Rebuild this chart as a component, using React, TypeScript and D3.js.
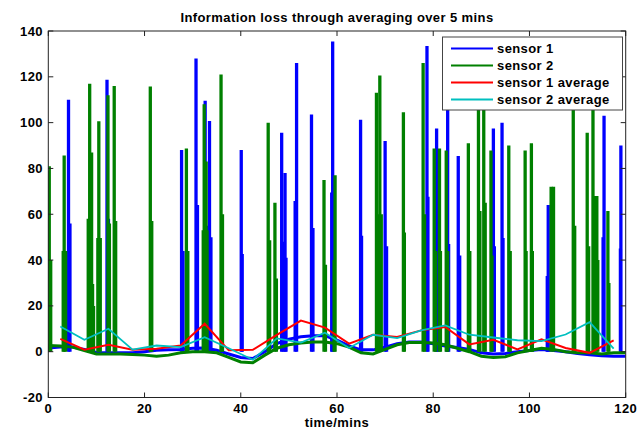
import React from "react";
import * as d3 from "d3";

const W = 639;
const H = 432;

// Baseline samples every 2.5 minutes (t = 0 .. 120)
const baseTimes: number[] = [
  0, 2.5, 5, 7.5, 10, 12.5, 15, 17.5, 20, 22.5, 25, 27.5, 30, 32.5, 35, 37.5, 40, 42.5, 45, 47.5,
  50, 52.5, 55, 57.5, 60, 62.5, 65, 67.5, 70, 72.5, 75, 77.5, 80, 82.5, 85, 87.5, 90, 92.5, 95, 97.5,
  100, 102.5, 105, 107.5, 110, 112.5, 115, 117.5, 120,
];
const sensor1Base: number[] = [
  1.6, 2, 2, 1, -0.3, -0.5, -0.5, -0.5, 0, 0.6, 0.8, 1, 1.5, 1.6, 0.6, -1, -2.5, -3, 0, 3.5,
  5.5, 6.5, 7, 7, 5, 2.5, 0.8, 0.8, 2, 3.5, 4.2, 4.2, 3.5, 2.5, 1.8, 1, -0.5, -1, -0.8, 0,
  0.5, 1, 0.5, 0, -0.8, -1.3, -1.8, -2, -2,
];
const sensor2Base: number[] = [
  2.7, 2.5, 2, 0.5, -1, -1, -1, -1.2, -1.5, -2, -1.5, -0.5, 0, 0, -0.5, -2.5, -4.5, -4.8, -1.5, 1.5,
  3, 3.8, 4.2, 4.2, 3.5, 2, -0.5, -1, 1, 3, 4, 4, 3.8, 3, 1.5, 0, -2, -2.5, -2.2, -0.5,
  0.5, 1.5, 1, 0, -0.5, -0.5, -1, -0.5, -0.5,
];

// Spikes: [time in minutes, value]
const sensor1Spikes: [number, number][] = [
  [4.2, 110], [4.5, 56],
  [12.2, 118.7], [12.5, 58],
  [27.7, 88], [28.0, 44],
  [30.7, 128], [31.0, 64],
  [32.6, 109.6], [33.0, 55],
  [33.5, 100.7], [33.8, 50],
  [40.1, 88], [40.3, 42.6],
  [48.5, 95.6], [48.8, 48],
  [49.2, 78], [49.4, 41],
  [51.6, 126], [51.3, 65.8],
  [54.7, 103.5], [55.0, 54],
  [59.1, 135.4], [58.9, 69.5],
  [64.9, 101.3], [65.1, 50.6],
  [70.0, 92], [70.3, 46],
  [78.7, 133.5], [78.9, 67.6],
  [80.7, 97.4], [80.9, 45],
  [83.0, 108], [82.8, 59], [83.2, 47],
  [85.2, 85.4], [85.5, 42],
  [92.5, 97.4], [92.7, 46],
  [94.3, 100], [94.5, 49.6],
  [103.9, 64], [103.7, 33],
  [115.5, 103], [115.3, 50],
  [119.0, 90], [118.9, 45],
];
const sensor2Spikes: [number, number][] = [
  [0.0, 79], [0.2, 81], [0.5, 40],
  [3.1, 44], [3.3, 85.6], [3.6, 44],
  [8.3, 58], [8.6, 117], [9.0, 87], [9.2, 29.6], [9.4, 20],
  [10.3, 49.6], [10.5, 100.6], [10.8, 49.6],
  [12.4, 112], [12.7, 56],
  [13.7, 116], [14.0, 57],
  [21.2, 115.8], [21.5, 57],
  [28.7, 88.7], [29.0, 44],
  [32.2, 53], [32.4, 108], [32.8, 83], [33.0, 53],
  [35.9, 121], [36.2, 60],
  [45.7, 100], [46.0, 48.7],
  [47.1, 65], [47.4, 32],
  [57.3, 75], [57.6, 38],
  [59.4, 40], [59.6, 77],
  [68.2, 113], [68.5, 60], [68.9, 120.6], [69.2, 60],
  [73.8, 104.5], [74.0, 52],
  [77.9, 126], [78.2, 60],
  [80.2, 88.7], [80.5, 44], [81.3, 88.7], [81.5, 44],
  [82.7, 87.8], [83.0, 44],
  [87.3, 91], [87.6, 44],
  [89.4, 120], [89.7, 61.4], [90.5, 120], [90.8, 65],
  [92.0, 87.8], [92.2, 42],
  [95.7, 90], [96.0, 44],
  [99.1, 87.8], [99.3, 44],
  [100.4, 91], [100.6, 44],
  [104.5, 72], [105.0, 72],
  [109.1, 118], [109.4, 55],
  [112.0, 95.6], [112.3, 46],
  [113.2, 110], [113.5, 68],
  [114.0, 68], [114.2, 40],
  [116.3, 61.4], [116.5, 30],
];

// 5-minute averages
const avgTimes: number[] = [
  2.5, 7.5, 12.5, 17.5, 22.5, 27.5, 32.5, 37.5, 42.5, 47.5, 52.5, 57.5,
  62.5, 67.5, 72.5, 77.5, 82.5, 87.5, 92.5, 97.5, 102.5, 107.5, 112.5, 117.5,
];
const sensor1Avg: number[] = [
  5.6, 0.9, 3, 0.9, 1.3, 2.7, 12.2, 0.6, 0.8, 7.3, 13.6, 10.5,
  3.5, 7.4, 6.4, 9.3, 10.8, 3.2, 5.2, 1, 5.4, 1.6, -0.5, 4.9,
];
const sensor2Avg: number[] = [
  11, 5.2, 10, 0.9, 2.7, 2, 6.3, 1.5, -3.5, 5.8, 4, 8.3,
  1.6, 7.4, 5.9, 9.3, 11.5, 7.4, 6.2, 5, 4.6, 7.5, 12.9, 1.3,
];

const xTicks: number[] = [0, 20, 40, 60, 80, 100, 120];
const yTicks: number[] = [-20, 0, 20, 40, 60, 80, 100, 120, 140];
const legendLabels: string[] = ["sensor 1", "sensor 2", "sensor 1 average", "sensor 2 average"];

const COLORS = ["#0000ff", "#008000", "#ff0000", "#00bfbf"];
const FONT = "'Liberation Sans', Arial, sans-serif";

export default function App() {
  const left = 48.3, right = 625.7, top = 31, bottom = 397.5;
  const x = d3.scaleLinear().domain([0, 120]).range([left, right]);
  const y = d3.scaleLinear().domain([-20, 140]).range([bottom, top]);

  const line = d3
    .line<[number, number]>()
    .x((d) => x(d[0]))
    .y((d) => y(d[1]));

  const base1 = baseTimes.map((t, i) => [t, sensor1Base[i]] as [number, number]);
  const base2 = baseTimes.map((t, i) => [t, sensor2Base[i]] as [number, number]);
  const avg1 = avgTimes.map((t, i) => [t, sensor1Avg[i]] as [number, number]);
  const avg2 = avgTimes.map((t, i) => [t, sensor2Avg[i]] as [number, number]);

  const textStyle: React.CSSProperties = {
    fontFamily: FONT,
    fontWeight: "bold",
    fontSize: 13,
    letterSpacing: 0.4,
  };

  const legX0 = 442.5, legY0 = 37, legW = 180, legH = 73;

  return (
    <svg
      width={W}
      height={H}
      style={{ position: "absolute", left: 0, top: 0, background: "#fff" }}
    >
      <rect x={0} y={0} width={W} height={H} fill="#fff" />
      <defs>
        <clipPath id="plotclip">
          <rect x={left} y={top} width={right - left} height={bottom - top} />
        </clipPath>
      </defs>

      <g clipPath="url(#plotclip)">
        {/* sensor 1 */}
        <path d={line(base1) || ""} fill="none" stroke={COLORS[0]} strokeWidth={3} />
        {sensor1Spikes.map(([t, v], i) => (
          <line key={"s1" + i} x1={x(t)} x2={x(t)} y1={y(0)} y2={y(v)} stroke={COLORS[0]} strokeWidth={3.3} />
        ))}
        {/* sensor 2 */}
        <path d={line(base2) || ""} fill="none" stroke={COLORS[1]} strokeWidth={3} />
        {sensor2Spikes.map(([t, v], i) => (
          <line key={"s2" + i} x1={x(t)} x2={x(t)} y1={y(0)} y2={y(v)} stroke={COLORS[1]} strokeWidth={3.3} />
        ))}
        {/* averages */}
        <path d={line(avg1) || ""} fill="none" stroke={COLORS[2]} strokeWidth={2} />
        <path d={line(avg2) || ""} fill="none" stroke={COLORS[3]} strokeWidth={1.8} />
      </g>

      {/* frame */}
      <rect x={left} y={top} width={right - left} height={bottom - top} fill="none" stroke="#222" strokeWidth={1} />

      {/* ticks */}
      {xTicks.map((t) => (
        <g key={"xt" + t}>
          <line x1={x(t)} x2={x(t)} y1={bottom} y2={bottom - 5} stroke="#222" />
          <line x1={x(t)} x2={x(t)} y1={top} y2={top + 5} stroke="#222" />
          <text x={x(t)} y={bottom + 15} textAnchor="middle" style={textStyle}>
            {t}
          </text>
        </g>
      ))}
      {yTicks.map((v) => (
        <g key={"yt" + v}>
          <line x1={left} x2={left + 5} y1={y(v)} y2={y(v)} stroke="#222" />
          <line x1={right} x2={right - 5} y1={y(v)} y2={y(v)} stroke="#222" />
          <text x={43} y={y(v) + 4.5} textAnchor="end" style={textStyle}>
            {v}
          </text>
        </g>
      ))}

      {/* title and label */}
      <text x={(left + right) / 2} y={22} textAnchor="middle" style={textStyle}>
        Information loss through averaging over 5 mins
      </text>
      <text x={(left + right) / 2} y={427} textAnchor="middle" style={textStyle}>
        time/mins
      </text>

      {/* legend */}
      <rect x={legX0} y={legY0} width={legW} height={legH} fill="#fff" stroke="#444" strokeWidth={1} />
      {legendLabels.map((lab, i) => {
        const ly = 48.5 + i * 17;
        return (
          <g key={lab}>
            <line x1={451} x2={493} y1={ly} y2={ly} stroke={COLORS[i]} strokeWidth={2} />
            <text x={497} y={ly + 4.5} style={textStyle}>
              {lab}
            </text>
          </g>
        );
      })}
    </svg>
  );
}
